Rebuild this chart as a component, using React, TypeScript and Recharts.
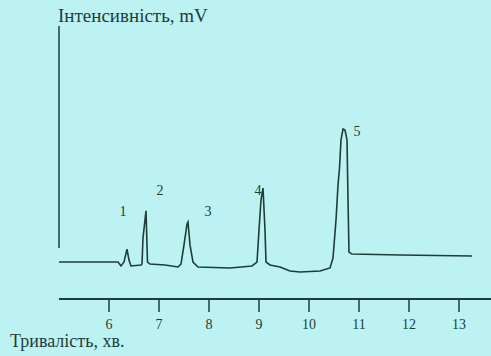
import React from "react";
import {
  LineChart,
  Line,
  XAxis,
  YAxis,
  ReferenceLine,
  ReferenceDot,
} from "recharts";

// retention time (min) and detector signal (mV, arbitrary zero)
const times = [
  5.0, 6.18, 6.24, 6.3, 6.36, 6.4, 6.44, 6.64, 6.66, 6.68, 6.74, 6.77, 6.82,
  7.12, 7.38, 7.44, 7.5, 7.56, 7.58, 7.62, 7.68, 7.78, 8.42, 8.86, 8.96, 9.0,
  9.04, 9.08, 9.12, 9.14, 9.22, 9.42, 9.62, 9.82, 10.22, 10.42, 10.48, 10.54,
  10.58, 10.61, 10.64, 10.68, 10.72, 10.76, 10.78, 10.8, 10.86, 11.82, 13.26,
];
const signal = [
  14.9, 14.9, 13.3, 14.9, 20.1, 15.7, 13.3, 13.7, 14.1, 24.6, 35.5, 14.9, 14.1,
  13.7, 12.9, 14.1, 21.8, 30.2, 31.0, 21.8, 14.9, 12.9, 12.5, 13.3, 14.9, 27.8,
  39.9, 44.7, 27.8, 14.9, 13.7, 12.9, 11.3, 10.9, 11.3, 12.5, 16.5, 31.8, 45.9,
  52.8, 64.1, 68.5, 68.1, 64.1, 39.9, 18.9, 18.1, 17.7, 17.3,
];

const xTicks = [6, 7, 8, 9, 10, 11, 12, 13];

const peakNames = ["1", "2", "3", "4", "5"];
const peakTimes = [6.28, 7.02, 7.98, 8.98, 10.96];
const peakLevels = [35.5, 43.9, 35.5, 43.9, 67.7];

const data = times.map((t, i) => ({ t, v: signal[i] }));

const ink = "#1f3d38";
const serif = '"Liberation Serif", "Times New Roman", "DejaVu Serif", serif';

export default function App() {
  return (
    <div
      className="chroma"
      style={{
        position: "absolute",
        left: 0,
        top: 0,
        width: 491,
        height: 356,
        background: "#bdf2f2",
        fontFamily: serif,
        overflow: "hidden",
      }}
    >
      <style>{`.chroma svg text { font-family: ${serif}; }`}</style>
      <LineChart
        width={491}
        height={356}
        data={data}
        margin={{ top: 26, right: 0, bottom: 0, left: 59 }}
      >
        <XAxis
          dataKey="t"
          type="number"
          domain={[5, 13.64]}
          ticks={xTicks}
          allowDataOverflow
          height={57}
          tickSize={13}
          tickMargin={7}
          axisLine={{ stroke: ink, strokeWidth: 2 }}
          tickLine={{ stroke: ink, strokeWidth: 1.5 }}
          tick={{ fill: ink, fontSize: 14, fontFamily: serif }}
        />
        <YAxis hide domain={[0, 110]} />
        <ReferenceLine
          segment={[
            { x: 5, y: 20.5 },
            { x: 5, y: 110 },
          ]}
          stroke={ink}
          strokeWidth={1.5}
          ifOverflow="visible"
        />
        <Line
          type="linear"
          dataKey="v"
          stroke={ink}
          strokeWidth={1.6}
          dot={false}
          isAnimationActive={false}
        />
        {peakNames.map((n, i) => (
          <ReferenceDot
            key={n}
            x={peakTimes[i]}
            y={peakLevels[i]}
            r={0}
            stroke="none"
            label={{
              value: n,
              position: "center",
              fill: ink,
              fontSize: 14,
              fontFamily: serif,
            }}
          />
        ))}
      </LineChart>
      <div
        style={{
          position: "absolute",
          left: 58,
          top: 5,
          fontSize: 19,
          color: ink,
          whiteSpace: "nowrap",
        }}
      >
        Інтенсивність, mV
      </div>
      <div
        style={{
          position: "absolute",
          left: 10,
          top: 331,
          fontSize: 18,
          color: ink,
          whiteSpace: "nowrap",
        }}
      >
        Тривалість, хв.
      </div>
    </div>
  );
}
